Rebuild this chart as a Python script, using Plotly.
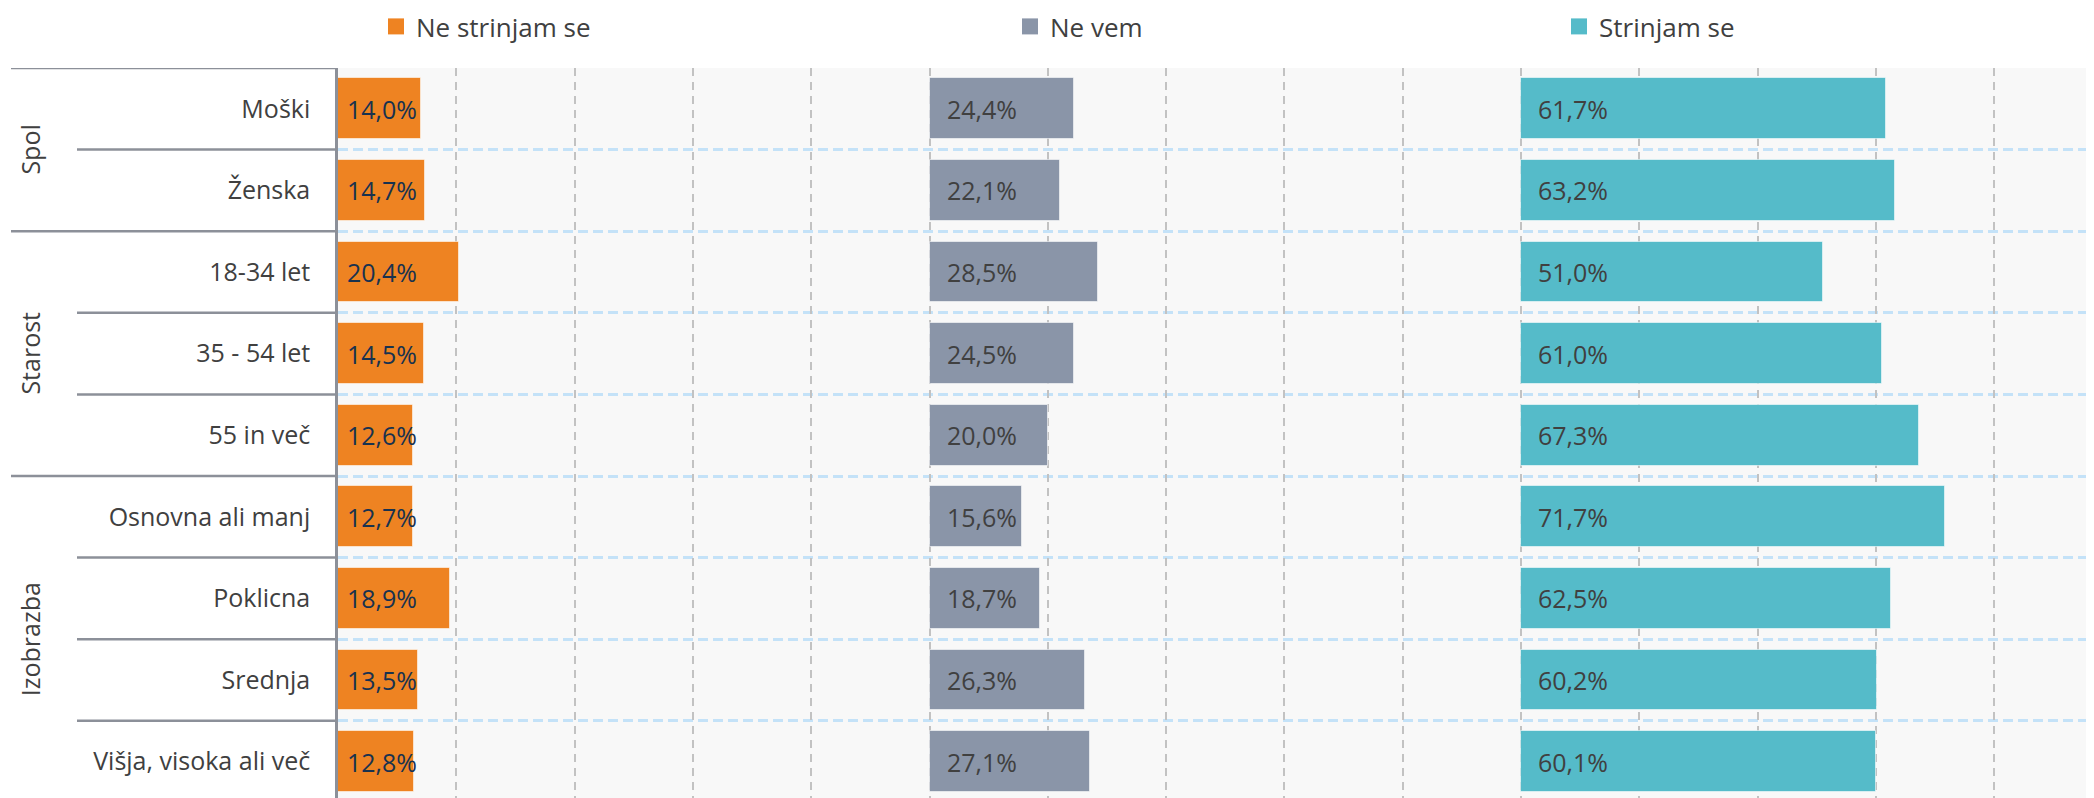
import plotly.graph_objects as go

# rows, top to bottom
CATEGORIES = ["Moški", "Ženska", "18-34 let", "35 - 54 let", "55 in več",
              "Osnovna ali manj", "Poklicna", "Srednja", "Višja, visoka ali več"]
GROUPS = ["Spol", "Starost", "Izobrazba"]
GROUP_SIZES = [2, 3, 4]

NE_STRINJAM = [14.0, 14.7, 20.4, 14.5, 12.6, 12.7, 18.9, 13.5, 12.8]
NE_VEM = [24.4, 22.1, 28.5, 24.5, 20.0, 15.6, 18.7, 26.3, 27.1]
STRINJAM = [61.7, 63.2, 51.0, 61.0, 67.3, 71.7, 62.5, 60.2, 60.1]

SERIES_NAMES = ["Ne strinjam se", "Ne vem", "Strinjam se"]

# page body has an 8px margin, so work in screen px and subtract it
OFF = 8
W, H = 2094 - OFF, 798 - OFF
ML, MT = 338 - OFF, 68 - OFF
PW, PH = W - ML, H - MT
FONT = "Open Sans"
TXT = "#404040"
LINE = "#8c9099"


def px_x(screen_x):
    return (screen_x - OFF - ML) / PW


series = [
    # values, colour, base offset, label colour, text shift, legend id, legend x (screen px)
    (NE_STRINJAM, "#ee8322", 0, "#18324f", 7, "legend", 376),
    (NE_VEM, "#8a95a8", 100, TXT, 15, "legend2", 1010),
    (STRINJAM, "#55bbc9", 200, TXT, 15, "legend3", 1559),
]

rows = list(range(len(CATEGORIES)))
row_px = 81.6
y_bottom = -0.5 + PH / row_px
x_max = PW / 5.915  # 100% = ~591.5 px

fig = go.Figure()
annotations = []
for (vals, color, base, lblcolor, shift, leg, lx), name in zip(series, SERIES_NAMES):
    fig.add_trace(go.Bar(
        x=vals, y=rows, base=base, orientation="h", name=name,
        marker=dict(color=color, line=dict(color="rgba(255,255,255,0.55)", width=1)),
        width=0.745, showlegend=False, hoverinfo="skip",
    ))
    # legend swatch
    fig.add_trace(go.Scatter(
        x=[None], y=[None], mode="markers", name=name, legend=leg, showlegend=True,
        marker=dict(symbol="square", size=16, color=color),
    ))
    for i, v in enumerate(vals):
        annotations.append(dict(
            x=base, y=i, xref="x", yref="y", xanchor="left", yanchor="middle",
            xshift=shift, showarrow=False,
            text=f"{v:.1f}%".replace(".", ","),
            font=dict(family=FONT, size=25, color=lblcolor),
        ))

# group labels and separator lines on the left
shapes = []
start = 0
for g, n in zip(GROUPS, GROUP_SIZES):
    annotations.append(dict(
        x=px_x(30), y=start + (n - 1) / 2, xref="paper", yref="y",
        text=g, textangle=-90, showarrow=False, xanchor="center", yanchor="middle",
        font=dict(family=FONT, size=25, color=TXT),
    ))
    shapes.append(dict(type="line", xref="paper", yref="y", x0=px_x(11), x1=0,
                       y0=start - 0.5, y1=start - 0.5, line=dict(color=LINE, width=2.5)))
    for k in range(1, n):
        yy = start + k - 0.5
        shapes.append(dict(type="line", xref="paper", yref="y", x0=px_x(77), x1=0,
                           y0=yy, y1=yy, line=dict(color=LINE, width=2.5)))
    start += n

fig.update_layout(
    width=W, height=H,
    margin=dict(l=ML, r=0, t=MT, b=0, pad=0, autoexpand=False),
    paper_bgcolor="white", plot_bgcolor="#f8f8f8",
    font=dict(family=FONT, size=25, color=TXT),
    showlegend=True,
    barmode="overlay", bargap=0,
    annotations=annotations, shapes=shapes,
    xaxis=dict(range=[0, x_max], dtick=20, tick0=0, showticklabels=False,
               showgrid=True, gridcolor="#c2c2c2", gridwidth=2, griddash="8px,6px",
               zeroline=False, showline=False, ticks="", automargin=False),
    yaxis=dict(range=[y_bottom, -0.5], tickvals=rows, ticktext=CATEGORIES,
               showgrid=False, zeroline=False, showline=True, linecolor=LINE,
               linewidth=2.5, ticks="", ticklabelstandoff=20, automargin=False,
               tickfont=dict(family=FONT, size=25, color=TXT),
               minor=dict(tickvals=[r - 0.5 for r in rows] + [len(rows) - 0.5],
                          showgrid=True, gridcolor="#c4e2f8", gridwidth=2.5,
                          griddash="10px,5px", ticks="")),
)

for _, _, _, _, _, leg, lx in series:
    fig.update_layout({leg: dict(x=px_x(lx), y=1 + (MT + 5) / PH,
                                 xanchor="left", yanchor="top",
                                 orientation="h", bgcolor="rgba(0,0,0,0)",
                                 itemsizing="trace", borderwidth=0,
                                 font=dict(family=FONT, size=26, color=TXT),
                                 itemclick=False, itemdoubleclick=False)})

fig.write_html("out.html")
